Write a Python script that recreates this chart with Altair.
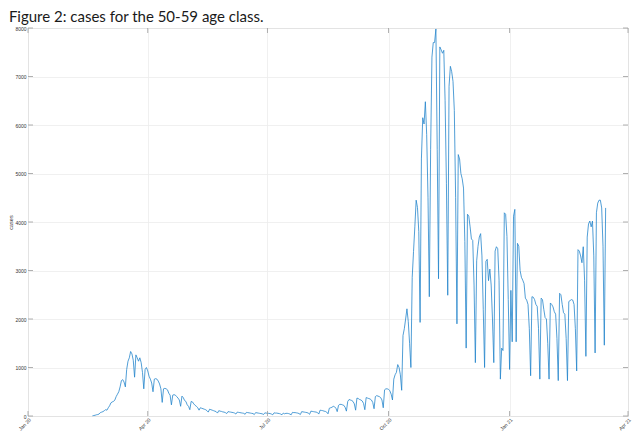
import altair as alt
import pandas as pd

# Daily cases, 50-59 age class
feb20 = [5, 10, 15, 25, 30, 40, 70, 80, 90, 110, 130]
mar20 = [120, 170, 210, 270, 290, 300, 330, 400, 450, 500,
         600, 730, 750, 700, 600, 960, 1130, 1200, 1330, 1280,
         1150, 800, 1260, 1200, 1130, 1200, 1100, 900, 560, 960,
         1000]
apr20 = [930, 820, 760, 680, 500, 760, 770, 760, 720, 660,
         560, 280, 560, 570, 560, 540, 470, 430, 230, 430,
         440, 430, 400, 370, 330, 200, 410, 380, 320, 300]
may20 = [230, 200, 130, 300, 290, 250, 220, 200, 170, 120,
         170, 160, 150, 140, 130, 110, 80, 140, 130, 120,
         110, 100, 90, 60, 110, 100, 95, 85, 80, 70,
         50]
jun20 = [90, 85, 80, 75, 70, 60, 40, 80, 75, 70,
         65, 60, 55, 35, 75, 70, 65, 60, 55, 50,
         30, 70, 65, 60, 55, 50, 45, 30, 65, 60]
jul20 = [55, 55, 50, 40, 25, 65, 60, 60, 55, 50,
         40, 25, 60, 45, 55, 55, 50, 40, 25, 75,
         70, 70, 65, 60, 50, 30, 90, 85, 80, 75,
         70]
aug20 = [60, 35, 100, 95, 90, 85, 80, 70, 40, 120,
         115, 110, 100, 95, 80, 45, 160, 170, 180, 200,
         190, 160, 90, 220, 240, 240, 230, 220, 180, 100,
         300]
sep20 = [340, 330, 320, 300, 250, 120, 370, 360, 340, 330,
         310, 260, 130, 380, 370, 360, 350, 330, 280, 150,
         400, 420, 410, 400, 380, 330, 170, 540, 560, 560]
oct20 = [550, 520, 450, 330, 760, 850, 900, 1060, 1000, 850,
         530, 1660, 1800, 2000, 2210, 1950, 1500, 1000, 2860, 3390,
         3900, 4450, 4300, 3800, 1930, 5300, 6150, 6020, 6480, 5800,
         4500]
nov20 = [2460, 5500, 7400, 7700, 7700, 7980, 5500, 2830, 7610, 7550,
         7480, 7540, 6500, 4800, 2490, 6800, 7210, 7100, 6900, 6300,
         4500, 1900, 5390, 5300, 5000, 4890, 4700, 3600, 1400, 4160]
dec20 = [4120, 3900, 3650, 3620, 2700, 1100, 3200, 3500, 3690, 3760,
         3300, 2200, 1000, 3190, 3230, 2790, 3030, 2700, 2000, 1100,
         3400, 3490, 3450, 2800, 760, 1400, 1350, 4190, 4160, 3700,
         2400]
jan21 = [960, 2590, 1530, 4120, 4260, 1530, 3560, 3500, 3000, 2860,
         2800, 2730, 2430, 2390, 2300, 1800, 830, 2460, 2450, 2400,
         2300, 2260, 1800, 760, 2430, 2400, 2200, 2030, 2000, 1500,
         760]
feb21 = [2330, 2300, 2250, 2150, 2100, 1600, 730, 2530, 2500, 2300,
         2130, 2100, 1600, 730, 2360, 2380, 2400, 2390, 2300, 1800,
         930, 3430, 3400, 3300, 3160, 3490, 2800, 1230]
mar21 = [3690, 3960, 4020, 3900, 4020, 3300, 1300, 4190, 4390, 4450,
         4450, 4290, 3500, 1460, 4290]

segments = [("2020-02-19", feb20), ("2020-03-01", mar20), ("2020-04-01", apr20),
            ("2020-05-01", may20), ("2020-06-01", jun20), ("2020-07-01", jul20),
            ("2020-08-01", aug20), ("2020-09-01", sep20), ("2020-10-01", oct20),
            ("2020-11-01", nov20), ("2020-12-01", dec20), ("2021-01-01", jan21),
            ("2021-02-01", feb21), ("2021-03-01", mar21)]

x_ticks = ["2020-01-01", "2020-04-01", "2020-07-01", "2020-10-01", "2021-01-01", "2021-04-01"]
y_ticks = [0, 1000, 2000, 3000, 4000, 5000, 6000, 7000, 8000]

dates, cases = [], []
for start, vals in segments:
    for d, v in zip(pd.date_range(start, periods=len(vals), freq="D"), vals):
        dates.append(d.strftime("%Y-%m-%d"))
        cases.append(v)
df = pd.DataFrame({"date": dates, "cases": cases})


def dt(s):
    y, m, d = map(int, s.split("-"))
    return alt.DateTime(year=y, month=m, date=d, utc=True)


x_scale = alt.Scale(type="utc", domain=[dt(x_ticks[0]), dt(x_ticks[-1])])
y_scale = alt.Scale(domain=[0, 8000], nice=False)

x_axis = alt.Axis(values=[dt(s) for s in x_ticks],
                  labelExpr="utcFormat(datum.value, '%b %y')", title=None)
y_axis = alt.Axis(values=y_ticks, format="d", title="cases")

W, H = 600, 388
TICK = "#9c9c9c"

line = alt.Chart(df).mark_line(color="#2585cc", strokeWidth=0.8).encode(
    x=alt.X("date:T", scale=x_scale, axis=x_axis),
    y=alt.Y("cases:Q", scale=y_scale, axis=y_axis),
)

ydf = pd.DataFrame({"cases": y_ticks})
xdf = pd.DataFrame({"date": x_ticks})

yl = alt.Chart(ydf).mark_rule(color=TICK, strokeWidth=0.8).encode(
    y=alt.Y("cases:Q", scale=y_scale, axis=y_axis), x=alt.value(0), x2=alt.value(5))
yr = alt.Chart(ydf).mark_rule(color=TICK, strokeWidth=0.8).encode(
    y=alt.Y("cases:Q", scale=y_scale, axis=y_axis), x=alt.value(W - 5), x2=alt.value(W))
xb = alt.Chart(xdf).mark_rule(color=TICK, strokeWidth=0.8).encode(
    x=alt.X("date:T", scale=x_scale, axis=x_axis), y=alt.value(H - 5), y2=alt.value(H))
xt = alt.Chart(xdf).mark_rule(color=TICK, strokeWidth=0.8).encode(
    x=alt.X("date:T", scale=x_scale, axis=x_axis), y=alt.value(0), y2=alt.value(5))

chart = alt.layer(line, yl, yr, xb, xt).properties(
    width=W, height=H,
    title=alt.TitleParams("Figure 2: cases for the 50-59 age class.", anchor="start",
                          dx=0, fontSize=15, font="Lato", fontWeight="normal",
                          color="#1a1a1a", offset=1),
    autosize=alt.AutoSizeParams(type="none"),
    padding={"left": 20, "top": 20, "right": 4, "bottom": 16},
).configure_view(stroke="#bdbdbd", strokeWidth=1).configure_axis(
    labelFont="Liberation Sans", labelFontSize=5, labelColor="#333333",
    titleFont="Liberation Sans", titleFontSize=5.5, titleFontWeight="normal",
    titleColor="#333333", ticks=False, domain=False, gridColor="#ececec", gridWidth=0.8,
).configure_axisX(labelAngle=315, labelAlign="right", labelBaseline="top", labelPadding=1
).configure_axisY(labelPadding=2, titlePadding=1)

chart.save("out.html", embed_options={"renderer": "svg", "actions": False})
